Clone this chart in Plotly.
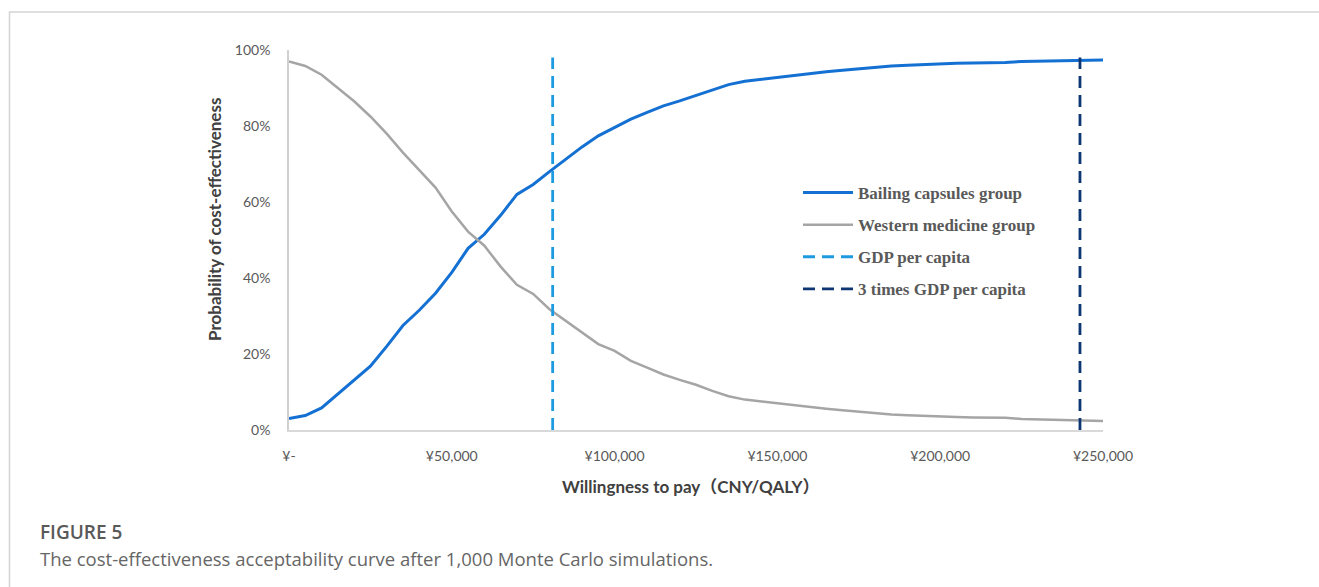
import plotly.graph_objects as go

# Willingness-to-pay thresholds (CNY/QALY)
wtp = [0, 5000, 10000, 15000, 20000, 25000, 30000, 35000, 40000, 45000,
       50000, 55000, 60000, 65000, 70000, 75000, 80000, 85000, 90000, 95000,
       100000, 105000, 110000, 115000, 120000, 125000, 130000, 135000, 140000, 145000,
       150000, 155000, 160000, 165000, 170000, 175000, 180000, 185000, 190000, 195000,
       200000, 205000, 210000, 215000, 220000, 225000, 230000, 235000, 240000, 245000,
       250000]

# Probability of being cost-effective (%)
bailing = [3.0, 3.8, 5.8, 9.5, 13.0, 16.8, 22.0, 27.5, 31.5, 36.0,
           41.5, 47.8, 51.5, 56.5, 62.0, 64.6, 68.0, 71.2, 74.5, 77.4,
           79.6, 81.8, 83.6, 85.3, 86.6, 88.0, 89.6, 90.9, 91.8, 92.3,
           92.9, 93.4, 93.9, 94.3, 94.7, 95.1, 95.5, 95.8, 96.0, 96.2,
           96.4, 96.5, 96.6, 96.6, 96.7, 97.0, 97.1, 97.2, 97.3, 97.3,
           97.4]
western = [97.0, 95.8, 93.5, 90.0, 86.5, 82.5, 78.0, 73.0, 68.5, 63.8,
           57.5, 52.2, 48.5, 43.0, 38.2, 35.8, 31.8, 28.8, 25.6, 22.6,
           20.8, 18.2, 16.4, 14.6, 13.2, 11.9, 10.3, 8.9, 8.0, 7.5,
           7.0, 6.5, 6.0, 5.6, 5.2, 4.8, 4.4, 4.1, 3.9, 3.7,
           3.5, 3.4, 3.3, 3.3, 3.2, 2.9, 2.8, 2.7, 2.6, 2.5,
           2.4]

# Threshold reference lines
gdp_per_capita = 80976
gdp_3x = 3 * gdp_per_capita
threshold_span = [0, 98]

x_tickvals = [0, 50000, 100000, 150000, 200000, 250000]
x_ticktext = ["¥-", "¥50,000", "¥100,000", "¥150,000", "¥200,000", "¥250,000"]
y_tickvals = [0, 20, 40, 60, 80, 100]
y_ticktext = ["0%", "20%", "40%", "60%", "80%", "100%"]

fig = go.Figure()
fig.add_trace(go.Scatter(x=wtp, y=bailing, mode="lines", name="Bailing capsules group",
                         line=dict(color="#1470D2", width=3), legendgroup="a"))
fig.add_trace(go.Scatter(x=wtp, y=western, mode="lines", name="Western medicine group",
                         line=dict(color="#A5A5A5", width=2.5), legendgroup="b"))
fig.add_trace(go.Scatter(x=[gdp_per_capita, gdp_per_capita], y=threshold_span, mode="lines",
                         name="GDP per capita",
                         line=dict(color="#1E9BE0", width=2.8, dash="12px,7px"), legendgroup="c"))
fig.add_trace(go.Scatter(x=[gdp_3x, gdp_3x], y=threshold_span, mode="lines",
                         name="3 times GDP per capita",
                         line=dict(color="#0E3672", width=2.8, dash="12px,7px"), legendgroup="d"))

W, H = 1319, 587
L, R, T, B = 289, 216, 50, 157
pw, ph = W - L - R, H - T - B


def px_x(px):
    return (px - L) / pw


def px_y(py):
    return (H - B - py) / ph


tick_font = dict(family="Lato, Open Sans, sans-serif", size=14, color="#595959")

fig.update_layout(
    width=W, height=H,
    margin=dict(l=L, r=R, t=T, b=B, autoexpand=False),
    paper_bgcolor="white", plot_bgcolor="white",
    showlegend=True,
    legend=dict(
        x=px_x(798), y=px_y(175), xanchor="left", yanchor="top",
        bgcolor="rgba(0,0,0,0)", itemwidth=50, tracegroupgap=7,
        font=dict(family="Liberation Serif, Times New Roman, serif", size=17,
                  color="#595959", weight="bold"),
    ),
    xaxis=dict(
        range=[0, 250000], tickvals=x_tickvals, ticktext=x_ticktext,
        showgrid=False, zeroline=False, showline=True, linecolor="#D9D9D9", linewidth=1.5,
        ticks="", tickfont=tick_font, ticklabelstandoff=12,
    ),
    yaxis=dict(
        range=[0, 100], tickvals=y_tickvals, ticktext=y_ticktext,
        showgrid=False, zeroline=False, showline=True, linecolor="#D0D0D0", linewidth=1.5,
        ticks="", tickfont=tick_font, ticklabelstandoff=14,
    ),
    shapes=[
        dict(type="line", xref="paper", yref="paper", x0=px_x(9), x1=px_x(W + 5),
             y0=px_y(12), y1=px_y(12), line=dict(color="#D4D4D4", width=1.5)),
        dict(type="line", xref="paper", yref="paper", x0=px_x(9.5), x1=px_x(9.5),
             y0=px_y(12), y1=px_y(H + 5), line=dict(color="#D4D4D4", width=1.5)),
    ],
    annotations=[
        dict(text="<b>Probability of cost-effectiveness</b>", xref="paper", yref="paper",
             x=px_x(215), y=px_y(220), textangle=-90, showarrow=False,
             xanchor="center", yanchor="middle",
             font=dict(family="Lato, Open Sans, sans-serif", size=17, color="#404040")),
        dict(text="<b>Willingness to pay（CNY/QALY）</b>", xref="paper", yref="paper",
             x=px_x(690), y=px_y(487), showarrow=False,
             xanchor="center", yanchor="middle",
             font=dict(family="Lato, Noto Sans CJK SC, sans-serif", size=17, color="#404040")),
        dict(text="FIGURE 5", xref="paper", yref="paper",
             x=px_x(38), y=px_y(532), showarrow=False,
             xanchor="left", yanchor="middle",
             font=dict(family="Open Sans, sans-serif", size=19, color="#595959", weight=600)),
        dict(text="The cost-effectiveness acceptability curve after 1,000 Monte Carlo simulations.",
             xref="paper", yref="paper",
             x=px_x(38), y=px_y(558), showarrow=False,
             xanchor="left", yanchor="middle",
             font=dict(family="Open Sans, sans-serif", size=18.5, color="#666666")),
    ],
)

fig.write_html("out.html")
